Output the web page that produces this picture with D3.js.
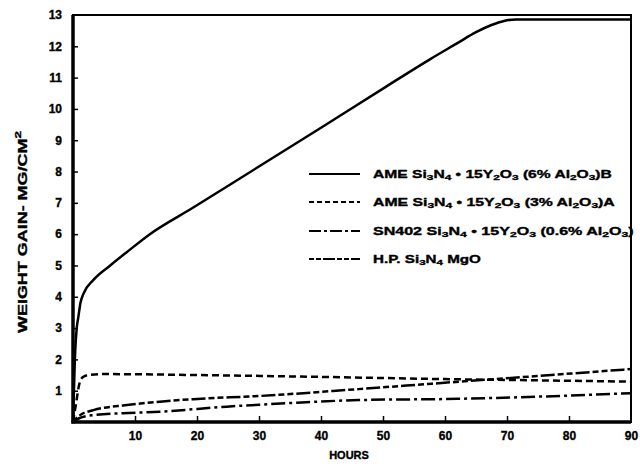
<!DOCTYPE html>
<html>
<head>
<meta charset="utf-8">
<script src="https://cdn.jsdelivr.net/npm/d3@7"></script>
<style>
  body { margin: 0; background: #fff; }
  svg { display: block; }
  text { font-family: "Liberation Sans", Arial, sans-serif; font-weight: bold; fill: #000; stroke: #000; stroke-width: 0.35px; }
</style>
</head>
<body>
<div id="chart"></div>
<script>
// values (hours, mg/cm2)
const xTicks = [10, 20, 30, 40, 50, 60, 70, 80, 90];
const yTicks = [1, 2, 3, 4, 5, 6, 7, 8, 9, 10, 11, 12, 13];

const ameB = [[0, 0], [0.3, 2.0], [0.6, 3.0], [0.86, 3.35], [1.2, 3.8], [1.7, 4.1], [3.3, 4.54], [6, 5.0],
  [8.7, 5.43], [12.4, 6.0], [19.4, 6.85], [25.3, 7.58], [40, 9.4], [50, 10.65], [57.7, 11.6], [62, 12.1],
  [65, 12.45], [67.5, 12.68], [69.5, 12.81], [71.5, 12.86], [90, 12.86]];
const ameA = [[0, 0], [0.5, 0.6], [1, 1.2], [1.5, 1.42], [2.5, 1.5], [5, 1.53], [20, 1.5], [40, 1.44],
  [60, 1.37], [75, 1.33], [90, 1.29]];
const sn402 = [[0, 0], [1, 0.12], [3.2, 0.22], [8, 0.28], [14, 0.33], [24.8, 0.49], [35.5, 0.61], [46, 0.70],
  [62, 0.74], [75, 0.81], [90, 0.92]];
const hpMgO = [[0, 0], [1, 0.2], [3.3, 0.38], [8.7, 0.54], [14, 0.65], [19.4, 0.73], [30, 0.83], [46, 1.05],
  [59, 1.24], [75, 1.47], [90, 1.69]];

const legendLabels = [
  [["AME Si"], ["3", "sub"], ["N"], ["4", "sub"], [" \u2022 15Y"], ["2", "sub"], ["O"], ["3", "sub"], [" (6% Al"], ["2", "sub"], ["O"], ["3", "sub"], [")B"]],
  [["AME Si"], ["3", "sub"], ["N"], ["4", "sub"], [" \u2022 15Y"], ["2", "sub"], ["O"], ["3", "sub"], [" (3% Al"], ["2", "sub"], ["O"], ["3", "sub"], [")A"]],
  [["SN402 Si"], ["3", "sub"], ["N"], ["4", "sub"], [" \u2022 15Y"], ["2", "sub"], ["O"], ["3", "sub"], [" (0.6% Al"], ["2", "sub"], ["O"], ["3", "sub"], [")"]],
  [["H.P. Si"], ["3", "sub"], ["N"], ["4", "sub"], [" MgO"]]
];

const W = 640, H = 466;
const margin = { top: 15, right: 9, bottom: 44, left: 73 };
const width = W - margin.left - margin.right;
const height = H - margin.top - margin.bottom;

const svg = d3.select("#chart").append("svg")
  .attr("width", W)
  .attr("height", H);

const g = svg.append("g")
  .attr("transform", `translate(${margin.left},${margin.top})`);

const x = d3.scaleLinear().domain([0, 90]).range([0, width]);
const y = d3.scaleLinear().domain([0, 13]).range([height, 0]);

// frame
g.append("rect")
  .attr("width", width).attr("height", height)
  .attr("fill", "none").attr("stroke", "#000").attr("stroke-width", 2);
g.append("line").attr("x1", 0).attr("x2", 0).attr("y1", 0).attr("y2", height + 1.5)
  .attr("stroke", "#000").attr("stroke-width", 3.5);
g.append("line").attr("x1", -1.5).attr("x2", width).attr("y1", height).attr("y2", height)
  .attr("stroke", "#000").attr("stroke-width", 3.5);

// axes, ticks pointing inward
const yAxis = g.append("g")
  .call(d3.axisLeft(y).tickValues(yTicks).tickSize(-5).tickPadding(11).tickFormat(d3.format("d")));
yAxis.select("path.domain").remove();
yAxis.selectAll("line").attr("stroke-width", 1.5).filter(d => d === 13).remove();
yAxis.selectAll("text").style("font-size", "12px");

const xAxis = g.append("g")
  .attr("transform", `translate(0,${height})`)
  .call(d3.axisBottom(x).tickValues(xTicks).tickSize(-6).tickPadding(9).tickFormat(d3.format("d")));
xAxis.select("path.domain").remove();
xAxis.selectAll("line").attr("stroke-width", 1.5).filter(d => d === 90).remove();
xAxis.selectAll("text").style("font-size", "12px");

// axis titles
g.append("text")
  .attr("x", width / 2 - 3).attr("y", height + 37)
  .attr("text-anchor", "middle")
  .style("font-size", "11px")
  .text("HOURS");

const yTitle = svg.append("text")
  .attr("x", 0).attr("y", 0)
  .style("font-size", "12px");
yTitle.append("tspan").text("WEIGHT GAIN- MG/CM");
yTitle.append("tspan").attr("dy", -6).style("font-size", "9px").text("2");
const yLen = yTitle.node().getComputedTextLength();
yTitle.attr("transform", `translate(27,333) rotate(-90) scale(${202 / yLen},1)`);

// series
const line = d3.line()
  .x(d => x(d[0]))
  .y(d => y(d[1]))
  .curve(d3.curveMonotoneX);

const series = [
  { data: ameB, dash: null },
  { data: ameA, dash: "7,4" },
  { data: sn402, dash: "14,4,3,4" },
  { data: hpMgO, dash: "6,3,6,3,14,3" }
];

g.selectAll("path.series")
  .data(series)
  .enter()
  .append("path")
  .attr("class", "series")
  .attr("d", d => line(d.data))
  .attr("fill", "none")
  .attr("stroke", "#000")
  .attr("stroke-width", 2.5)
  .attr("stroke-dasharray", d => d.dash);

// legend
const legendRows = [174, 202, 231, 259];
const legendDash = [null, "5,3", "12,3,3,3", "5,2,5,2,12,2"];
const legendEnds = [612, 615, 634, 481];

legendLabels.forEach((parts, i) => {
  svg.append("line")
    .attr("x1", 309).attr("x2", 360)
    .attr("y1", legendRows[i]).attr("y2", legendRows[i])
    .attr("stroke", "#000").attr("stroke-width", 2.2)
    .attr("stroke-dasharray", legendDash[i]);

  const t = svg.append("text")
    .attr("x", 0).attr("y", 0)
    .style("font-size", "10.5px");
  parts.forEach(p => {
    const s = t.append("tspan").text(p[0]);
    if (p[1] === "sub") s.attr("baseline-shift", "-25%").style("font-size", "8px");
  });
  const w = t.node().getComputedTextLength();
  const k = (legendEnds[i] - 373) / w;
  t.attr("transform", `translate(373,${legendRows[i] + 4}) scale(${k},1)`);
});
</script>
</body>
</html>
